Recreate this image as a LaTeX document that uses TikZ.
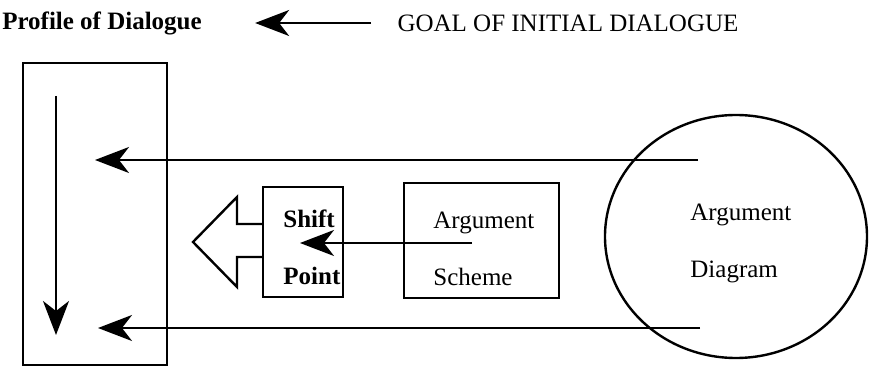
\documentclass[tikz,border=0pt]{standalone}
\usepackage{fontspec}
\setmainfont{Liberation Serif}
\usetikzlibrary{arrows.meta, positioning, shapes.geometric}

\begin{document}
\begin{tikzpicture}[x=0.5pt, y=-0.5pt,
    >={Stealth[length=17pt, width=13pt, inset=5pt]},
    box/.style={draw, line width=1.2pt, inner sep=0pt},
    label/.style={font=\fontsize{12.5}{28.5}\selectfont, inner sep=0pt, align=left},
    flow/.style={->, line width=1pt}]
  \useasboundingbox (0,0) rectangle (869,369);
  % heading line
  \node[label, font=\fontsize{12.5}{15}\selectfont\bfseries] (profile) at (102,23) {Profile of Dialogue};
  \node[label] (goal) at (568,23) {GOAL OF INITIAL DIALOGUE};
  \draw[flow] ([xshift=-13pt]goal.west) -- ([xshift=26.5pt]profile.east);
  % boxes
  \node[box, minimum width=72pt, minimum height=151pt] (profilebox) at (95,214) {};
  \node[box, minimum width=40pt, minimum height=55pt] (shift) at (303,242) {};
  \node[box, minimum width=77.5pt, minimum height=57.5pt] (scheme) at (481.5,240.5) {};
  \node[box, ellipse, minimum width=131pt, minimum height=121.5pt] (diagram) at (736,236.5) {};
  \node[label, font=\fontsize{12.5}{28.5}\selectfont\bfseries, anchor=west] (shifttext) at (283,247.5) {Shift\\Point};
  \node[label, anchor=west] (schemetext) at (433,248.5) {Argument\\Scheme};
  \node[label, anchor=west] (diagramtext) at (690,243.5) {Argument\\Diagram};
  % open arrow on the shift box
  \draw[box, line join=miter] (263,224) -- (237,224) -- (237,197) -- (193,242)
    -- (237,287) -- (237,257) -- (263,257);
  % connectors
  \coordinate (flowtop) at (56,96);
  \coordinate (flowbot) at (56,335);
  \coordinate (topin) at (95,160);
  \coordinate (topout) at (698,160);
  \coordinate (botin) at (98,328);
  \coordinate (botout) at (700,328);
  \coordinate (schemeout) at (472,243);
  \coordinate (shiftin) at (300,243);
  \draw[flow] (flowtop) -- (flowbot);
  \draw[flow] (topout) -- (topin);
  \draw[flow] (botout) -- (botin);
  \draw[flow] (schemeout) -- (shiftin);
\end{tikzpicture}
\end{document}
